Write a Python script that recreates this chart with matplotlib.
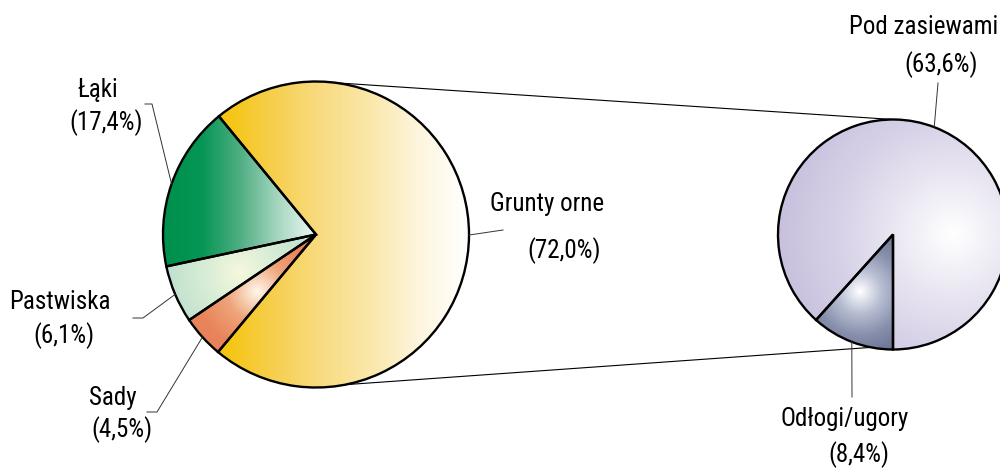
import numpy as np
import matplotlib
matplotlib.use('Agg')
import matplotlib.pyplot as plt
from matplotlib import font_manager as fm
from matplotlib.colors import LinearSegmentedColormap

# the original uses a condensed grotesque; take the narrowest one we have
have = {(f.name, f.stretch) for f in fm.fontManager.ttflist}
names = {n for n, s in have}
FONT, STRETCH, SIZE = 'Roboto', 'normal', 16
for cand in ['Liberation Sans Narrow', 'Roboto Condensed', 'Open Sans Condensed', 'Arial Narrow']:
    if cand in names:
        FONT, STRETCH, SIZE = cand, 'normal', 18
        break
else:
    if ('DejaVu Sans', 'condensed') in have or ('DejaVu Sans', 'semi-condensed') in have:
        FONT, STRETCH, SIZE = 'DejaVu Sans', 'condensed', 16
plt.rcParams['font.family'] = [FONT, 'DejaVu Sans']
plt.rcParams['font.stretch'] = STRETCH

# land use, % of total area
land_labels = ['Grunty orne', 'Łąki', 'Pastwiska', 'Sady']
land_share = [72.0, 17.4, 6.1, 4.5]

# breakdown of arable land, % of total area
arable_labels = ['Pod zasiewami', 'Odłogi/ugory']
arable_share = [63.6, 8.4]

H = 469  # canvas height in px, data coords are pixels with y up


def pct(v):
    return '(' + f'{v:.1f}'.replace('.', ',') + '%)'


def ramp(*stops):
    return LinearSegmentedColormap.from_list('g', list(stops))


def shade(ax, wedge, cmap, tfunc):
    cx, cy = wedge.center
    r = wedge.r
    xs = np.linspace(cx - r, cx + r, 400)
    ys = np.linspace(cy - r, cy + r, 400)
    X, Y = np.meshgrid(xs, ys)
    t = np.clip(tfunc(X, Y), 0, 1)
    im = ax.imshow(cmap(t), extent=(cx - r, cx + r, cy - r, cy + r), origin='lower',
                   interpolation='bilinear', zorder=2)
    im.set_clip_path(wedge)


def linear(x0, x1):
    return lambda X, Y: (X - x0) / (x1 - x0)


def radial(px, py, rad):
    return lambda X, Y: np.hypot(X - px, Y - (H - py)) / rad


fig = plt.figure(figsize=(10, 4.69), dpi=100)
ax = fig.add_axes([0, 0, 1, 1])

c1, r1 = (316, H - 234.5), 153
c2, r2 = (893, H - 234.5), 115

edge = dict(edgecolor='black', linewidth=1.7, facecolor='none', zorder=3)
w1, _ = ax.pie(land_share, center=c1, radius=r1, startangle=129.4 - land_share[0] * 3.6,
               wedgeprops=edge)
w2, _ = ax.pie(arable_share, center=c2, radius=r2, startangle=-90, wedgeprops=edge)

shade(ax, w1[0], ramp('#F5C300', '#F6CD45', '#F8DA7C', '#FAE6A6', '#FDF5DC', '#FFFFFF'),
      linear(214, 468))
shade(ax, w1[1], ramp('#00904C', '#059555', '#4EAE82', '#A6D6C0', '#EEF8F4'),
      linear(163, 316))
shade(ax, w1[2], ramp('#F5F8DC', '#D8EDD6', '#C2E2CF'), radial(240, 273, 70))
shade(ax, w1[3], ramp('#FFF7EA', '#EFA47A', '#E8835A'), radial(257, 292, 60))
shade(ax, w2[0], ramp('#FFFFFF', '#EAE7F2', '#D6D1E7', '#C8C0DD'), radial(953, 234.5, 175))
shade(ax, w2[1], ramp('#FFFFFF', '#B8BFD3', '#8890AC', '#6C7596'), radial(860, 292, 65))


# connector lines between the two pies
def on_circle(c, r, ang):
    a = np.deg2rad(ang)
    return c[0] + r * np.cos(a), c[1] + r * np.sin(a)


for a1, a2 in [(90, 90), (-79, -101)]:
    p, q = on_circle(c1, r1, a1), on_circle(c2, r2, a2)
    ax.plot([p[0], q[0]], [p[1], q[1]], color='black', lw=0.8, zorder=1)


# leader lines: from wedge middle to the label
def mid(w):
    return on_circle(w.center, w.r, (w.theta1 + w.theta2) / 2)


leaders = [
    (w1[0], [(503, 230)]),
    (w1[1], [(152, 104), (145, 104)]),
    (w1[2], [(143, 318), (133, 318)]),
    (w1[3], [(157, 412), (147, 412)]),
    (w2[0], [(938, 83)]),
    (w2[1], [(852, 397)]),
]
for w, pts in leaders:
    x0, y0 = mid(w)
    xs = [x0] + [p[0] for p in pts]
    ys = [y0] + [H - p[1] for p in pts]
    ax.plot(xs, ys, color='#333333', lw=0.7, zorder=4)

# label positions (name, pct) in px from top-left
name_pos = [(547, 204), (98, 90), (60, 302), (113, 398)]
pct_pos = [(564, 251), (106, 123), (64, 336), (122, 430)]
for lab, v, (nx, ny), (px, py) in zip(land_labels, land_share, name_pos, pct_pos):
    ax.text(nx, H - ny, lab, ha='center', va='center', fontsize=SIZE)
    ax.text(px, H - py, pct(v), ha='center', va='center', fontsize=SIZE)

# right pie: top label is flush with the right edge
ax.text(998, H - 27, arable_labels[0], ha='right', va='center', fontsize=SIZE)
ax.text(941, H - 65, pct(arable_share[0]), ha='center', va='center', fontsize=SIZE)
ax.text(845, H - 419, arable_labels[1], ha='center', va='center', fontsize=SIZE)
ax.text(859, H - 455, pct(arable_share[1]), ha='center', va='center', fontsize=SIZE)

ax.set_xlim(0, 1000)
ax.set_ylim(0, H)
ax.set_aspect('equal')
ax.axis('off')

fig.savefig('out.png', dpi=100, facecolor='white')
